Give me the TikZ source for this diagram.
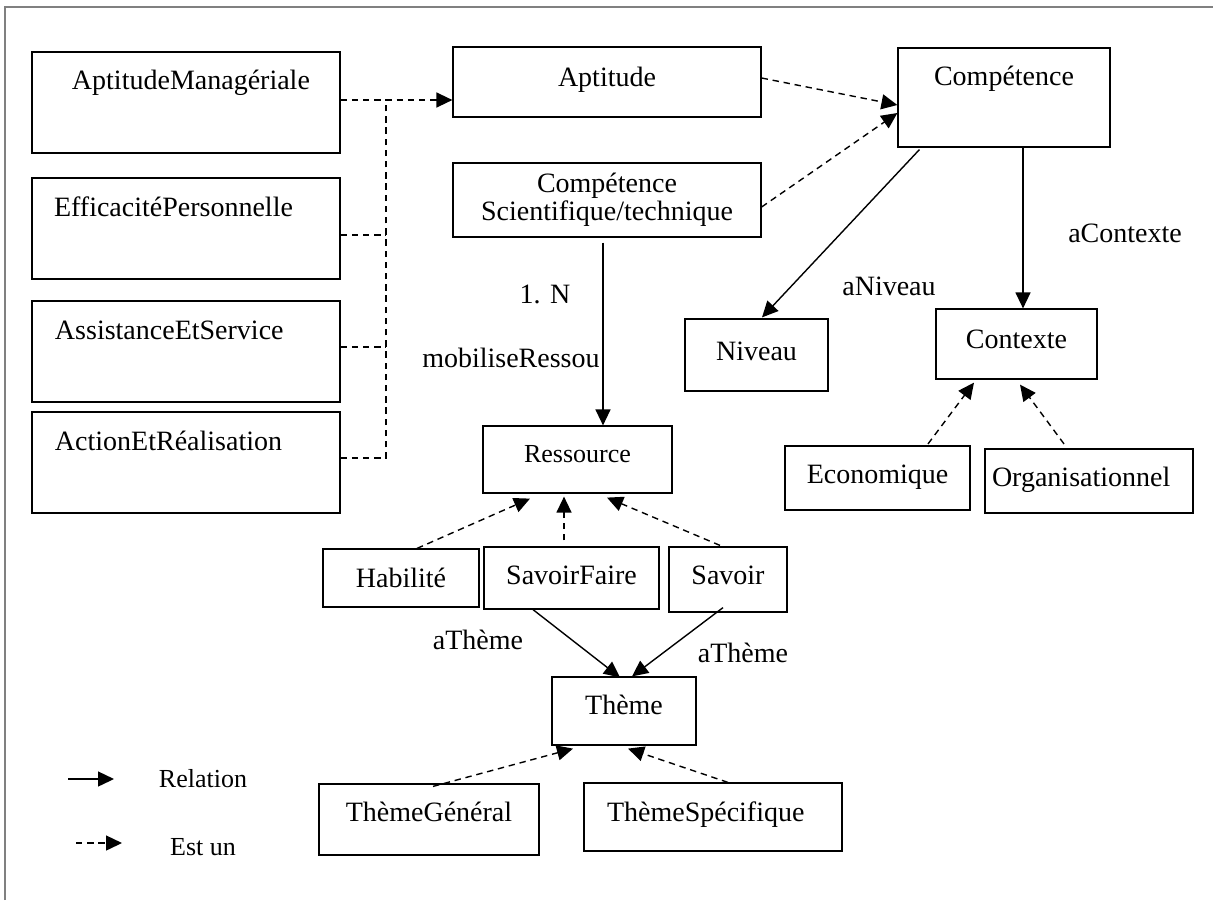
\documentclass[tikz,border=0pt]{standalone}
\usepackage{fontspec}
\setmainfont{Liberation Serif}
\usetikzlibrary{arrows.meta,calc}
% left-aligned text inside a box of fixed width
\newcommand\padl[3]{\makebox[#1][l]{\hspace*{#2}#3}}
\begin{document}
\begin{tikzpicture}[x=0.5pt,y=-0.5pt,
  every node/.style={font=\fontsize{14pt}{16pt}\selectfont},
  box/.style={draw=black,line width=0.6pt,inner xsep=0pt,inner ysep=0pt},
  thickbox/.style={box,line width=1.1pt},
  lbl/.style={inner sep=0pt,anchor=base},
  rel/.style={line width=0.7pt,-{Triangle[length=8pt,width=7.5pt]}},
  isa/.style={rel,dash pattern=on 3.2pt off 2.4pt},
  isaline/.style={line width=0.7pt,dash pattern=on 3.2pt off 2.4pt}]
\useasboundingbox (0,0) rectangle (1213,900);
% frame
\draw[gray,line width=0.6pt] (5,900) -- (5,7) -- (1213,7);

% aptitude family
\node[box,text height=18.5pt,text depth=32pt] (am) at (186,102.5) {\padl{154pt}{20pt}{AptitudeManagériale}};
\node[box,text height=19pt,text depth=31.5pt] (ep) at (186,228.5) {\padl{154pt}{11pt}{EfficacitéPersonnelle}};
\node[box,text height=19pt,text depth=31.5pt] (as) at (186,351.5) {\padl{154pt}{11.5pt}{AssistanceEtService}};
\node[box,text height=19pt,text depth=31.5pt] (ar) at (186,462.5) {\padl{154pt}{11.5pt}{ActionEtRéalisation}};

\node[box,minimum width=154pt,text height=19.5pt,text depth=15.5pt] (apt) at (607,82) {Aptitude};
\node[box,minimum width=154pt,minimum height=37pt,align=center,
      font=\fontsize{14pt}{12.5pt}\selectfont] (cst) at (607,200) {Compétence\\Scientifique/technique};
\node[box,minimum width=106pt,text height=18.5pt,text depth=31pt] (comp) at (1004,97.5) {Compétence};

\node[box,minimum width=71.5pt,text height=20.5pt,text depth=15.5pt] (niv) at (756.5,355) {Niveau};
\node[box,minimum width=80.5pt,text height=19.5pt,text depth=15.5pt] (ctx) at (1016.5,344) {Contexte};
\node[thickbox,minimum width=92.5pt,text height=18.5pt,text depth=13.5pt] (eco) at (877.5,478) {Economique};
\node[thickbox,text height=18.5pt,text depth=13.5pt] (org) at (1089,481) {\padl{104pt}{3.5pt}{Organisationnel}};

\node[box,minimum width=94.5pt,text height=18pt,text depth=15.5pt,
      font=\fontsize{13pt}{15pt}\selectfont] (res) at (577.5,459.5) {Ressource};
\node[box,minimum width=78pt,text height=19pt,text depth=10pt] (hab) at (401,578) {Habilité};
\node[box,minimum width=87.5pt,text height=18.5pt,text depth=12.5pt] (sf) at (571.5,578) {SavoirFaire};
\node[box,minimum width=59pt,text height=18.5pt,text depth=14pt] (sav) at (728,579.5) {Savoir};

\node[box,minimum width=72pt,text height=18.5pt,text depth=15.5pt] (the) at (624,711) {Thème};
\node[box,minimum width=110pt,text height=18.5pt,text depth=17pt] (tg) at (429,819.5) {ThèmeGénéral};
\node[box,text height=19pt,text depth=15pt] (ts) at (713,817) {\padl{129pt}{11.5pt}{ThèmeSpécifique}};

% labels
\node[lbl] (l1n) at (545,303) {1. N};
\node[lbl,anchor=base east] (lmob) at (600,367) {mobiliseRessou};
\node[lbl] (lniv) at (889,295) {aNiveau};
\node[lbl] (lctx) at (1125,242) {aContexte};
\node[lbl] (lth1) at (478,649) {aThème};
\node[lbl] (lth2) at (743,662) {aThème};

% is-a bus on the left
\coordinate (bus) at (386,100);
\draw[isa] ($(am.east)+(0,-2.5)$) -- ($(apt.west)+(0,18)$);
\draw[isaline] ($(ar.east)+(0,-4.5)$) -| (bus);
\draw[isaline] ($(ep.east)+(0,6.5)$) coordinate (e1) -- (e1 -| bus);
\draw[isaline] ($(as.east)+(0,-4.5)$) coordinate (e2) -- (e2 -| bus);

% is-a towards Compétence
\draw[isa] ($(apt.east)+(0,-4)$) -- ($(comp.west)+(0,7.5)$);
\draw[isa] ($(cst.east)+(0,7)$) -- ($(comp.west)+(0,15.5)$);

% relations of Compétence
\draw[rel] ($(comp.south west)+(22,2)$) -- ($(niv.north)+(5.5,-1)$);
\draw[rel] ($(comp.south)+(19,0)$) coordinate (c1) -- (c1 |- ctx.north);

% kinds of Contexte
\draw[isa] ($(eco.north)+(50.5,-1)$) -- ($(ctx.south)+(-42.5,3)$);
\draw[isa] ($(org.north)+(-25,-4)$) -- ($(ctx.south)+(3.5,5)$);

% mobiliseRessource
\draw[rel] ($(cst.south)+(-4,5)$) coordinate (c2) -- (c2 |- res.north);

% kinds of Ressource
\draw[isa] ($(hab.north)+(16,0)$) -- ($(res.south)+(-47.5,5)$);
\draw[isa] ($(sf.north)+(-7.5,-6)$) -- ($(res.south)+(-13.5,3)$);
\draw[isa] ($(sav.north)+(-8,-1)$) -- ($(res.south)+(29.5,4)$);

% aThème relations
\draw[rel] ($(sf.south)+(-38.5,0)$) -- ($(the.north)+(-4,1)$);
\draw[rel] ($(sav.south)+(-5,-5)$) -- ($(the.north)+(8,0)$);

% kinds of Thème
\draw[isa] ($(tg.north)+(4,3)$) -- ($(the.south)+(-51,3)$);
\draw[isa] ($(ts.north)+(15,0)$) -- ($(the.south)+(4,3)$);

% legend
\coordinate (r0) at (68,779);
\coordinate (r1) at (114,779);
\coordinate (d0) at (76,843);
\coordinate (d1) at (122,843);
\draw[rel] (r0) -- (r1);
\draw[isa] (d0) -- (d1);
\node[lbl,font=\fontsize{13pt}{15pt}\selectfont] (lrel) at (203,787) {Relation};
\node[lbl,font=\fontsize{13pt}{15pt}\selectfont] (lest) at (203,855) {Est un};
\end{tikzpicture}
\end{document}
